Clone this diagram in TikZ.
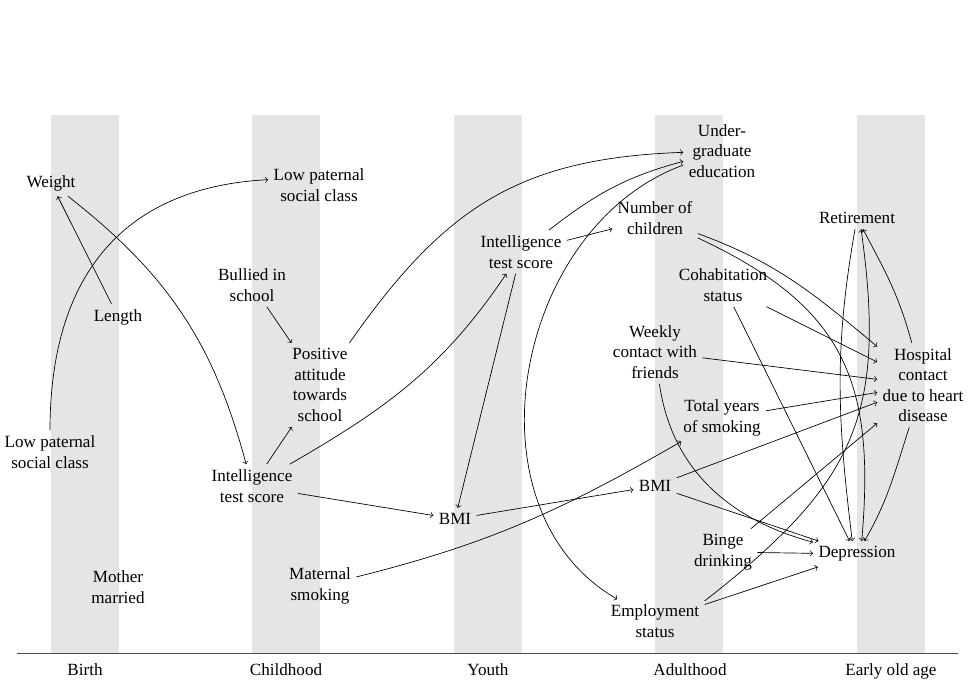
\documentclass[tikz,border=0pt]{standalone}
\usepackage{fontspec}
\setmainfont{Liberation Serif}
\usetikzlibrary{calc}
\begin{document}
\begin{tikzpicture}[x=0.585pt,y=0.585pt,
  lbl/.style={align=center, inner sep=3pt, font=\fontsize{10}{12}\selectfont},
  axlbl/.style={anchor=base, inner sep=0pt, font=\fontsize{10}{12}\selectfont},
  conn/.style={->, line width=0.4pt},
  band/.style={fill=black!10, draw=none},
  axis/.style={draw=black!70, line width=0.6pt}]
\useasboundingbox (0,0) rectangle (971,685);
% bands
\foreach \bx in {51,252,454,655,857}
  \fill[band] (\bx,31.5) rectangle ++(68,538);
\draw[axis] (17,31.5) -- (958,31.5);
\node[axlbl] (tb) at (85,9) {Birth};
\node[axlbl] (tc) at (286,9) {Childhood};
\node[axlbl] (ty) at (488,9) {Youth};
\node[axlbl] (ta) at (690,9) {Adulthood};
\node[axlbl] (te) at (891,9) {Early old age};
% nodes
\node[lbl] (wt) at (51,502) {Weight};
\node[lbl] (len) at (118,368) {Length};
\node[lbl] (lpb) at (50,233) {Low paternal\\social class};
\node[lbl] (mom) at (118,98) {Mother\\married};
\node[lbl] (lpc) at (319,500) {Low paternal\\social class};
\node[lbl] (bul) at (252,400) {Bullied in\\school};
\node[lbl] (pos) at (320,300) {Positive\\attitude\\towards\\school};
\node[lbl] (iqc) at (252,199) {Intelligence\\test score};
\node[lbl] (mat) at (320,99) {Maternal\\smoking};
\node[lbl] (bmiy) at (455,166) {BMI};
\node[lbl] (iqy) at (521,433) {Intelligence\\test score};
\node[lbl] (ugr) at (722,534) {Under-\\graduate\\education};
\node[lbl] (nch) at (655,467) {Number of\\children};
\node[lbl] (coh) at (723,400) {Cohabitation\\status};
\node[lbl] (wkc) at (655,333) {Weekly\\contact with\\friends};
\node[lbl] (tys) at (722,267) {Total years\\of smoking};
\node[lbl] (bmia) at (655,199) {BMI};
\node[lbl] (bng) at (723,133) {Binge\\drinking};
\node[lbl] (emp) at (655,64) {Employment\\status};
\node[lbl] (ret) at (857,467) {Retirement};
\node[lbl] (hos) at (923,300) {Hospital\\contact\\due to heart\\disease};
\node[lbl] (dep) at (857,131) {Depression};
% connectors
\draw[conn] (len) -- (wt);
\draw[conn] (wt) to[out=-38,in=105] (iqc);
\draw[conn] (lpb) to[out=90,in=183,looseness=1.15] (lpc.174);
\draw[conn] (bul) -- (pos);
\draw[conn] (iqc) -- (pos);
\draw[conn] (pos) to[out=55,in=182,looseness=1.1] (ugr);
\draw[conn] (iqc) to[out=30,in=-124] (iqy);
\draw[conn] (iqc) -- (bmiy);
\draw[conn] (mat) to[out=14,in=-150] (tys);
\draw[conn] (iqy) -- (bmiy);
\draw[conn] (iqy) -- (nch);
\draw[conn] (iqy) to[out=38,in=195] (ugr);
\draw[conn] (ugr) to[out=200,in=150,looseness=1.05] (emp);
\draw[conn] (bmiy) -- (bmia);
\draw[conn] (nch) to[out=-20,in=140] (hos);
\draw[conn] (nch) to[out=-25,in=85,looseness=1.2] (dep.70);
\draw[conn] (coh) -- (hos);
\draw[conn] (coh) -- (dep.120);
\draw[conn] (wkc) -- (hos);
\draw[conn] (wkc) to[out=-82,in=165] (dep);
\draw[conn] (tys) -- (hos);
\draw[conn] (bmia) -- (hos);
\draw[conn] (bmia) -- (dep);
\draw[conn] (bng) -- (hos);
\draw[conn] (bng) -- (dep);
\draw[conn] (emp) -- (dep);
\draw[conn] (emp.22) to[out=38,in=-82,looseness=1.2] (ret.-70);
\draw[conn] (ret) to[out=-100,in=97] (dep.110);
\draw[conn] (hos) to[out=105,in=-62] (ret.-62);
\draw[conn] (hos) to[out=-108,in=60] (dep.60);
\end{tikzpicture}
\end{document}
